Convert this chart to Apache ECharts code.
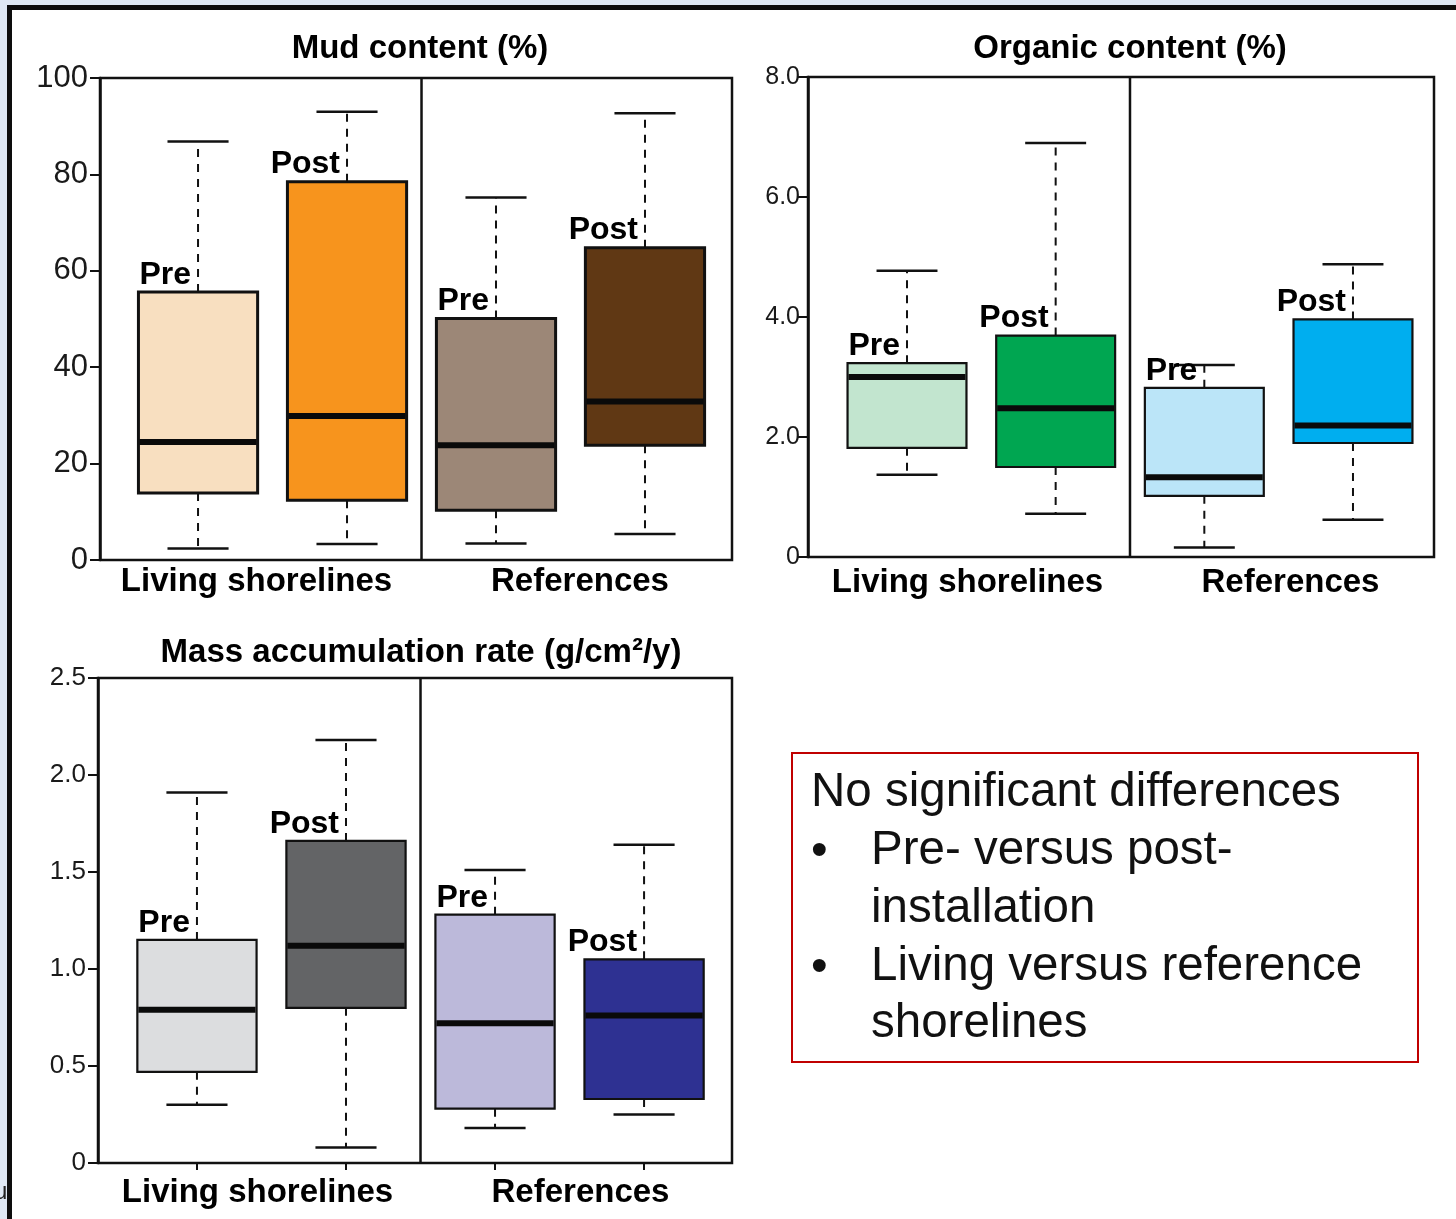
<!DOCTYPE html>
<html>
<head>
<meta charset="utf-8">
<script src="https://cdn.jsdelivr.net/npm/echarts@6/dist/echarts.min.js"></script>
<style>
html,body{margin:0;padding:0;background:#ffffff;}
#c{width:1456px;height:1219px;}
</style>
</head>
<body>
<div id="c"></div>
<script>
// ---------------- data ----------------
const groupNames = ['Living shorelines', 'References'];
const phaseNames = ['Pre', 'Post', 'Pre', 'Post'];
const boxPositions = [1, 2, 3, 4];
// each row: [min, Q1, median, Q3, max]
const mudStats = [
  [2.4, 13.9, 24.5, 55.6, 86.8],
  [3.3, 12.4, 29.9, 78.5, 93.0],
  [3.4, 10.3, 23.8, 50.1, 75.2],
  [5.4, 23.8, 32.9, 64.8, 92.7]
];
const organicStats = [
  [1.37, 1.82, 3.00, 3.23, 4.77],
  [0.72, 1.50, 2.48, 3.69, 6.90],
  [0.16, 1.02, 1.33, 2.82, 3.20],
  [0.62, 1.90, 2.19, 3.96, 4.88]
];
const marStats = [
  [0.30, 0.47, 0.79, 1.15, 1.91],
  [0.08, 0.80, 1.12, 1.66, 2.18],
  [0.18, 0.28, 0.72, 1.28, 1.51],
  [0.25, 0.33, 0.76, 1.05, 1.64]
];
const mudTickLabels = ['0', '20', '40', '60', '80', '100'];
const organicTickLabels = ['0', '2.0', '4.0', '6.0', '8.0'];
const marTickLabels = ['0', '0.5', '1.0', '1.5', '2.0', '2.5'];
const titles = ['Mud content (%)', 'Organic content (%)', 'Mass accumulation rate (g/cm\u00b2/y)'];
const noteLines = ['No significant differences', 'Pre- versus post-', 'installation', 'Living versus reference', 'shorelines'];

// ---------------- styles ----------------
const mudColors = ['#f8dfc0', '#f7941d', '#9c8777', '#603814'];
const organicColors = ['#c2e5cf', '#00a651', '#bbe5f8', '#00aeef'];
const marColors = ['#dcdddf', '#636466', '#bcb9da', '#2e3192'];
const FONT = '"Liberation Sans", Arial, Helvetica, sans-serif';

function boxRenderer(colors, edgeWidth) {
  return function (params, api) {
    const i = params.dataIndex;
    const x = api.value(0);
    const pMin = api.coord([x, api.value(1)]);
    const pQ1 = api.coord([x, api.value(2)]);
    const pMed = api.coord([x, api.value(3)]);
    const pQ3 = api.coord([x, api.value(4)]);
    const pMax = api.coord([x, api.value(5)]);
    const bw = api.size([0.8, 0])[0];
    const cw = api.size([0.41, 0])[0];
    const cx = pMed[0];
    const dash = { stroke: '#111', lineWidth: 2, lineDash: [8, 7] };
    const solid = { stroke: '#111', lineWidth: 2.5 };
    return {
      type: 'group',
      children: [
        { type: 'line', shape: { x1: cx, y1: pQ3[1], x2: cx, y2: pMax[1] }, style: dash },
        { type: 'line', shape: { x1: cx, y1: pQ1[1], x2: cx, y2: pMin[1] }, style: dash },
        { type: 'line', shape: { x1: cx - cw / 2, y1: pMax[1], x2: cx + cw / 2, y2: pMax[1] }, style: solid },
        { type: 'line', shape: { x1: cx - cw / 2, y1: pMin[1], x2: cx + cw / 2, y2: pMin[1] }, style: solid },
        { type: 'rect', shape: { x: cx - bw / 2, y: pQ3[1], width: bw, height: pQ1[1] - pQ3[1] },
          style: { fill: colors[i], stroke: '#111', lineWidth: edgeWidth } },
        { type: 'line', shape: { x1: cx - bw / 2 + 1, y1: pMed[1], x2: cx + bw / 2 - 1, y2: pMed[1] },
          style: { stroke: '#0a0a0a', lineWidth: 6 } },
        { type: 'text', x: cx - 7, y: pQ3[1] - 1,
          style: { text: phaseNames[i], align: 'right', verticalAlign: 'bottom',
                   font: 'bold 32px ' + FONT, fill: '#000' } }
      ]
    };
  };
}

function boxSeries(gridIdx, stats, colors, edgeWidth) {
  return {
    type: 'custom',
    xAxisIndex: gridIdx * 2,
    yAxisIndex: gridIdx,
    data: stats.map((s, i) => [boxPositions[i]].concat(s)),
    encode: { x: 0, y: [1, 2, 3, 4, 5] },
    renderItem: boxRenderer(colors, edgeWidth),
    z: 3
  };
}

function dividerSeries(gridIdx, maxVal) {
  return {
    type: 'line',
    xAxisIndex: gridIdx * 2,
    yAxisIndex: gridIdx,
    data: [[2.5, 0], [2.5, maxVal]],
    symbol: 'none',
    lineStyle: { color: '#111', width: 2.5 },
    silent: true,
    z: 2
  };
}

function valueX(gridIdx, min, max, ticks) {
  return {
    type: 'value', gridIndex: gridIdx, min: min, max: max,
    axisLine: { show: ticks, lineStyle: { color: '#111', width: 2 } },
    axisTick: ticks ? { show: true, customValues: boxPositions, length: 7, lineStyle: { color: '#111', width: 2 } } : { show: false },
    axisLabel: { show: false },
    splitLine: { show: false }
  };
}
function groupX(gridIdx, margin, shifts) {
  return {
    type: 'category', gridIndex: gridIdx, position: 'bottom',
    data: groupNames.map((g, i) => ({
      value: g,
      textStyle: shifts[i] >= 0 ? { padding: [0, 0, 0, shifts[i]] } : { padding: [0, -shifts[i], 0, 0] }
    })),
    axisLine: { show: false }, axisTick: { show: false }, splitLine: { show: false },
    axisLabel: { interval: 0, hideOverlap: false, margin: margin, fontFamily: FONT, fontWeight: 'bold', fontSize: 33, color: '#000' }
  };
}
function valueY(gridIdx, max, interval, labels, fontSize, margin) {
  return {
    type: 'value', gridIndex: gridIdx, min: 0, max: max, interval: interval,
    axisLine: { show: true, lineStyle: { color: '#111', width: 2.5 } },
    axisTick: { show: true, length: 10, lineStyle: { color: '#111', width: 2 } },
    axisLabel: { margin: margin, fontFamily: FONT, fontSize: fontSize, color: '#1a1a1a',
                 formatter: (v, idx) => labels[idx] },
    splitLine: { show: false }
  };
}

const gridStyle = { show: true, borderColor: '#111', borderWidth: 2.5, backgroundColor: 'transparent', containLabel: false };

const titleStyle = { fontFamily: FONT, fontWeight: 'bold', fontSize: 33, color: '#000' };

const noteFont = '47.5px ' + FONT;

const option = {
  animation: false,
  backgroundColor: '#ffffff',
  title: [
    { text: titles[0], left: 415, top: 27, textAlign: 'center', textStyle: titleStyle },
    { text: titles[1], left: 1125, top: 27, textAlign: 'center', textStyle: titleStyle },
    { text: titles[2], left: 416, top: 631, textAlign: 'center', textStyle: titleStyle }
  ],
  grid: [
    Object.assign({ left: 100, top: 78, width: 632, height: 482 }, gridStyle),
    Object.assign({ left: 808, top: 77, width: 626, height: 480 }, gridStyle),
    Object.assign({ left: 98, top: 678, width: 634, height: 485 }, gridStyle)
  ],
  xAxis: [
    valueX(0, 0.342, 4.584, false), groupX(0, 5, [-3, 12]),
    valueX(1, 0.334, 4.545, false), groupX(1, 9, [6, 26]),
    valueX(2, 0.336, 4.59, true), groupX(2, 13, [2, 14])
  ],
  yAxis: [
    valueY(0, 100, 20, mudTickLabels, 31, 12),
    valueY(1, 8, 2, organicTickLabels, 25, 8),
    valueY(2, 2.5, 0.5, marTickLabels, 26, 12)
  ],
  series: [
    dividerSeries(0, 100),
    dividerSeries(1, 8),
    dividerSeries(2, 2.5),
    boxSeries(0, mudStats, mudColors, 3),
    boxSeries(1, organicStats, organicColors, 2.2),
    boxSeries(2, marStats, marColors, 2.2)
  ],
  graphic: [
    { type: 'rect', left: 0, top: 0, shape: { width: 1456, height: 5 }, style: { fill: '#dfe8f4' }, z: 10 },
    { type: 'rect', left: 0, top: 0, shape: { width: 7, height: 1219 }, style: { fill: '#dfe8f4' }, z: 10 },
    { type: 'rect', left: 7, top: 5, shape: { width: 1449, height: 5 }, style: { fill: '#0d0d0d' }, z: 11 },
    { type: 'rect', left: 7, top: 5, shape: { width: 5, height: 1214 }, style: { fill: '#0d0d0d' }, z: 11 },
    { type: 'text', x: -6, y: 1192, style: { text: 'u', font: '24px ' + FONT, fill: '#222', verticalAlign: 'middle' }, z: 12 },
    { type: 'rect', shape: { x: 792, y: 753, width: 626, height: 309 },
      style: { fill: 'none', stroke: '#c00000', lineWidth: 2 }, z: 5 },
    { type: 'text', x: 811, y: 793, style: { text: noteLines[0], font: noteFont, fill: '#111', verticalAlign: 'middle' }, z: 5 },
    { type: 'text', x: 811, y: 852, style: { text: '\u2022', font: noteFont, fill: '#111', verticalAlign: 'middle' }, z: 5 },
    { type: 'text', x: 871, y: 851, style: { text: noteLines[1], font: noteFont, fill: '#111', verticalAlign: 'middle' }, z: 5 },
    { type: 'text', x: 871, y: 909, style: { text: noteLines[2], font: noteFont, fill: '#111', verticalAlign: 'middle' }, z: 5 },
    { type: 'text', x: 811, y: 968, style: { text: '\u2022', font: noteFont, fill: '#111', verticalAlign: 'middle' }, z: 5 },
    { type: 'text', x: 871, y: 967, style: { text: noteLines[3], font: noteFont, fill: '#111', verticalAlign: 'middle' }, z: 5 },
    { type: 'text', x: 871, y: 1024, style: { text: noteLines[4], font: noteFont, fill: '#111', verticalAlign: 'middle' }, z: 5 }
  ]
};

const chart = echarts.init(document.getElementById('c'), null, { renderer: 'canvas' });
chart.setOption(option);
</script>
</body>
</html>
